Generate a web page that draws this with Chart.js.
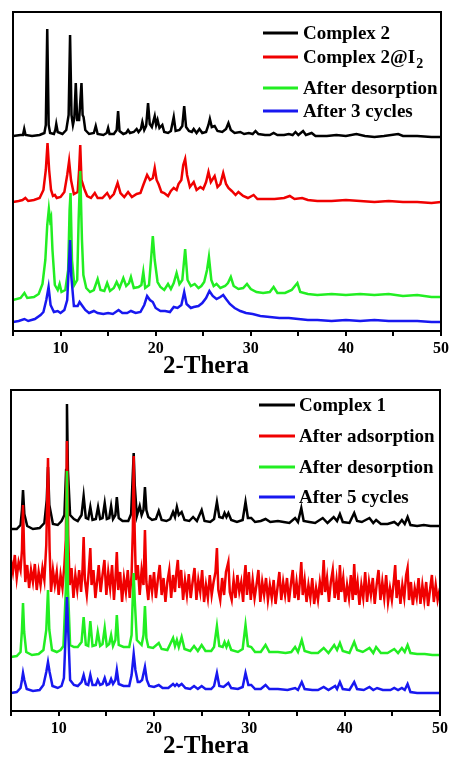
<!DOCTYPE html>
<html>
<head>
<meta charset="utf-8">
<script src="https://cdn.jsdelivr.net/npm/chart.js@4.4.0/dist/chart.umd.min.js"></script>
<style>
  body { margin: 0; background: #fff; }
  canvas { display: block; }
</style>
</head>
<body>
<canvas id="top" width="452" height="380"></canvas>
<canvas id="bottom" width="452" height="380"></canvas>
<script>
// [2-theta, intensity a.u.] - traces are already stacked with an offset

// ---- upper panel ----
const complex2 = [[5,194],[5.8,195],[6.05,195],[6.18,201],[6.32,195],[7,194],[7.8,195],[8.3,197],[8.45,205],[8.6,301],[8.75,205],[8.9,197],[9.3,196],[9.45,200],[9.55,206],[9.7,198],[10.2,196],[10.6,200],[10.85,215],[11.0,295],[11.15,215],[11.3,205],[11.45,212],[11.6,247],[11.75,210],[11.95,210],[12.2,247],[12.32,215],[12.42,213],[12.6,200],[13.0,196],[13.5,197],[13.7,204],[13.9,196],[14.5,195],[14.85,197],[15.0,202],[15.15,196],[15.6,196],[15.9,200],[16.05,219],[16.2,199],[16.6,196],[16.9,197],[17.1,200],[17.3,197],[17.7,198],[18.0,201],[18.2,198],[18.45,201],[18.6,208],[18.8,200],[19.0,204],[19.2,227],[19.38,206],[19.6,203],[19.9,214],[20.05,205],[20.2,210],[20.4,202],[20.7,205],[20.9,198],[21.3,197],[21.6,199],[21.9,213],[22.1,199],[22.5,200],[22.8,204],[23.0,224],[23.2,203],[23.5,199],[23.8,198],[24.0,201],[24.3,197],[24.6,201],[24.9,197],[25.3,198],[25.55,205],[25.7,211],[25.9,203],[26.2,204],[26.5,199],[27.0,198],[27.4,201],[27.65,207],[27.9,200],[28.3,197],[28.9,198],[29.3,196],[29.8,197],[30.2,196],[30.5,199],[30.8,196],[31.5,195],[32.0,195],[32.4,197],[32.8,195],[33.5,195],[34.0,196],[34.4,195],[34.7,198],[35.0,195],[35.5,199],[35.8,195],[36.4,197],[36.8,194],[38,194],[39,195],[40,194],[41.1,196],[42,194],[43,193],[44,194],[45.5,196],[46,194],[47.5,194],[49,193],[50,193]];

const complex2I2 = [[5,128],[5.6,129],[6.0,130],[6.3,132],[6.6,129],[7.2,130],[7.8,132],[8.2,140],[8.45,160],[8.63,187],[8.8,160],[9.0,140],[9.2,134],[9.4,135],[9.6,132],[10.0,133],[10.4,138],[10.7,155],[10.9,169],[11.1,150],[11.4,136],[11.8,138],[11.95,160],[12.07,185],[12.2,150],[12.5,141],[12.8,134],[13.2,132],[13.6,137],[13.9,132],[14.4,132],[14.9,137],[15.2,132],[15.6,136],[16.0,147],[16.3,137],[16.7,133],[17.1,138],[17.5,133],[18.0,136],[18.4,137],[18.7,145],[19.1,155],[19.4,150],[19.7,152],[19.9,162],[20.1,150],[20.3,146],[20.6,138],[20.9,137],[21.3,134],[21.6,139],[21.9,142],[22.2,140],[22.4,146],[22.7,150],[22.9,165],[23.1,171],[23.3,155],[23.6,143],[24.0,148],[24.3,140],[24.7,143],[25.0,141],[25.3,148],[25.55,158],[25.8,148],[26.2,154],[26.5,143],[26.8,146],[27.1,157],[27.4,146],[27.65,142],[28.0,139],[28.4,135],[28.7,138],[29.2,134],[29.7,132],[30.3,135],[30.7,131],[31.5,131],[32.5,131],[33.5,132],[34.1,134],[34.6,131],[35.4,132],[36.0,130],[37,129],[38.5,129],[40,130],[41.5,129],[43,128],[44.5,129],[46,128],[47.5,128],[49,127],[50,128]];

const desorb2 = [[5,30],[5.8,32],[6.2,37],[6.5,32],[7.2,33],[7.7,36],[8.1,46],[8.4,70],[8.6,105],[8.77,121],[8.9,110],[9.0,113],[9.15,80],[9.4,45],[9.7,40],[9.9,46],[10.1,38],[10.5,40],[10.8,60],[10.95,120],[11.05,137],[11.2,70],[11.45,45],[11.75,50],[11.9,110],[12.07,159],[12.25,90],[12.4,55],[12.7,42],[13.1,38],[13.5,40],[13.9,51],[14.2,40],[14.6,39],[14.9,47],[15.2,39],[15.6,42],[15.9,48],[16.2,42],[16.6,52],[16.9,44],[17.2,47],[17.4,53],[17.7,42],[18.2,43],[18.5,45],[18.7,58],[18.9,42],[19.3,45],[19.55,75],[19.7,94],[19.9,70],[20.2,48],[20.5,43],[20.9,40],[21.3,46],[21.6,41],[21.9,47],[22.2,57],[22.5,46],[22.8,50],[23.1,81],[23.35,50],[23.7,44],[24.1,46],[24.5,42],[24.8,44],[25.1,48],[25.4,60],[25.6,73],[25.85,50],[26.1,44],[26.4,46],[26.8,42],[27.3,44],[27.6,47],[27.9,53],[28.2,44],[28.7,41],[29.2,42],[29.6,46],[30.0,41],[30.6,38],[31.3,37],[32.0,38],[32.4,43],[32.8,37],[33.6,37],[34.3,40],[34.9,47],[35.2,38],[36,36],[37,35],[38.5,36],[40,35],[41.5,36],[43,35],[44.5,36],[46,34],[47.5,35],[49,33],[50,33]];

const cycles3 = [[5,8],[5.6,9],[6.2,11],[6.6,9],[7.3,11],[7.9,15],[8.2,18],[8.5,30],[8.74,43],[8.95,25],[9.3,18],[9.7,19],[10.0,17],[10.4,20],[10.7,30],[10.9,70],[11.0,90],[11.12,55],[11.4,24],[11.8,24],[12.0,28],[12.3,24],[12.6,20],[13.0,17],[13.5,19],[13.9,17],[14.5,16],[15.0,17],[15.5,16],[16.1,20],[16.5,17],[17.0,17],[17.4,19],[17.9,17],[18.4,18],[18.8,25],[19.1,34],[19.4,30],[19.7,28],[20.0,22],[20.5,19],[21.0,19],[21.5,18],[21.9,23],[22.3,22],[22.7,25],[23.0,38],[23.25,26],[23.7,22],[24.0,23],[24.5,24],[24.9,27],[25.3,32],[25.65,39],[26.0,34],[26.4,31],[26.8,33],[27.1,35],[27.4,31],[27.8,26],[28.3,22],[28.9,19],[29.5,17],[30.2,16],[31.0,14],[32,13],[33,12],[34,12],[35,11],[36,10],[37,10],[38.5,9],[40,10],[41.5,9],[43,10],[44.5,9],[46,9],[47.5,9],[49,8],[50,8]];

// ---- lower panel ----
const complex1 = [[5,181],[5.6,181],[6.0,185],[6.15,200],[6.26,220],[6.4,196],[6.7,184],[7.3,181],[8.0,182],[8.5,187],[8.75,210],[8.88,243],[9.02,205],[9.4,186],[9.9,185],[10.3,189],[10.6,195],[10.78,240],[10.87,306],[10.97,240],[11.2,195],[11.6,191],[12.0,189],[12.4,195],[12.62,214],[12.85,192],[13.1,191],[13.32,203],[13.55,190],[13.9,191],[14.13,203],[14.35,191],[14.6,192],[14.83,207],[15.05,191],[15.3,192],[15.5,204],[15.7,191],[15.95,195],[16.1,213],[16.3,192],[16.7,189],[17.3,189],[17.6,196],[17.75,230],[17.87,257],[17.98,225],[18.2,194],[18.5,204],[18.7,195],[18.9,200],[19.05,223],[19.2,200],[19.4,193],[19.8,190],[20.2,191],[20.5,199],[20.8,190],[21.3,189],[21.7,191],[22.0,198],[22.2,193],[22.4,203],[22.6,195],[22.9,198],[23.2,190],[23.7,189],[24.1,193],[24.5,189],[25.0,200],[25.3,189],[25.9,188],[26.3,191],[26.6,208],[26.85,193],[27.2,192],[27.4,197],[27.6,193],[27.8,197],[28.1,190],[28.7,188],[29.3,190],[29.6,208],[29.85,192],[30.2,192],[30.6,188],[31.2,189],[31.7,191],[32.2,188],[33.0,189],[33.6,188],[34.2,187],[34.8,192],[35.1,188],[35.45,202],[35.7,189],[36.3,188],[36.9,187],[37.7,192],[38.2,187],[38.85,193],[39.2,189],[39.5,196],[39.8,188],[40.5,187],[41.0,197],[41.3,189],[41.8,188],[42.6,192],[43.0,187],[43.3,190],[43.8,186],[44.5,186],[45.2,188],[45.6,185],[46.0,190],[46.3,186],[46.6,193],[46.9,185],[47.6,184],[48.3,185],[49,184],[50,184]];

const adsorb1 = [[5.0,150],[5.2,138],[5.4,155],[5.6,132],[5.8,148],[6.0,140],[6.15,160],[6.26,205],[6.38,158],[6.5,128],[6.7,145],[6.9,122],[7.1,140],[7.3,128],[7.5,146],[7.7,120],[7.9,138],[8.1,125],[8.3,142],[8.5,130],[8.7,165],[8.88,252],[9.05,160],[9.2,118],[9.4,140],[9.6,125],[9.8,138],[10.0,115],[10.2,135],[10.4,122],[10.6,145],[10.75,170],[10.87,269],[11.0,175],[11.15,125],[11.35,142],[11.55,112],[11.75,135],[11.95,120],[12.15,140],[12.35,118],[12.5,140],[12.62,173],[12.75,130],[12.95,115],[13.15,138],[13.32,162],[13.45,125],[13.65,140],[13.85,112],[14.05,130],[14.2,145],[14.4,118],[14.6,135],[14.8,150],[15.0,115],[15.2,138],[15.4,122],[15.6,145],[15.8,110],[15.95,130],[16.1,158],[16.25,120],[16.45,138],[16.65,108],[16.85,132],[17.05,118],[17.25,140],[17.45,112],[17.65,135],[17.78,180],[17.87,254],[17.97,180],[18.1,130],[18.3,145],[18.5,115],[18.7,140],[18.9,125],[19.05,180],[19.2,128],[19.4,110],[19.6,135],[19.8,118],[20.0,138],[20.2,112],[20.4,130],[20.6,145],[20.8,115],[21.0,132],[21.2,108],[21.4,128],[21.6,140],[21.8,112],[22.0,135],[22.2,118],[22.35,138],[22.5,150],[22.65,122],[22.85,140],[23.05,110],[23.25,130],[23.45,115],[23.65,136],[23.85,112],[24.05,128],[24.25,142],[24.45,110],[24.65,130],[24.85,118],[25.05,140],[25.25,108],[25.45,125],[25.65,112],[25.85,135],[26.05,115],[26.25,128],[26.45,138],[26.6,162],[26.75,120],[26.95,110],[27.15,132],[27.35,115],[27.55,138],[27.8,148],[27.95,118],[28.15,110],[28.35,130],[28.55,112],[28.75,135],[28.95,118],[29.15,128],[29.35,108],[29.5,135],[29.6,145],[29.75,115],[29.95,138],[30.15,110],[30.35,130],[30.55,112],[30.75,125],[30.95,140],[31.15,108],[31.35,128],[31.55,115],[31.75,132],[31.95,110],[32.15,125],[32.35,112],[32.55,130],[32.75,106],[32.95,122],[33.15,138],[33.35,110],[33.55,128],[33.75,115],[33.95,132],[34.15,108],[34.35,125],[34.55,140],[34.75,112],[34.95,128],[35.15,110],[35.35,135],[35.45,148],[35.6,115],[35.8,130],[36.0,108],[36.2,125],[36.4,112],[36.6,132],[36.8,106],[37.0,122],[37.2,110],[37.4,128],[37.6,115],[37.8,150],[37.95,118],[38.15,132],[38.35,108],[38.55,128],[38.75,140],[38.95,112],[39.15,130],[39.35,110],[39.5,145],[39.65,118],[39.85,132],[40.05,108],[40.25,125],[40.45,112],[40.65,135],[40.85,110],[41.0,146],[41.15,115],[41.35,128],[41.55,105],[41.75,125],[41.95,112],[42.15,138],[42.35,108],[42.55,128],[42.75,115],[42.95,132],[43.15,106],[43.35,125],[43.55,140],[43.75,110],[43.95,128],[44.15,112],[44.35,135],[44.55,108],[44.75,122],[44.95,110],[45.15,128],[45.3,145],[45.45,112],[45.65,130],[45.85,106],[46.05,125],[46.25,112],[46.45,135],[46.6,142],[46.75,110],[46.95,128],[47.15,105],[47.35,122],[47.55,112],[47.75,132],[47.95,106],[48.15,125],[48.35,110],[48.55,128],[48.75,104],[48.95,120],[49.15,135],[49.35,108],[49.55,125],[49.75,110],[50.0,122]];

const desorb1 = [[5,53],[5.6,54],[6.0,58],[6.15,80],[6.26,107],[6.38,78],[6.6,58],[7.2,55],[7.9,56],[8.4,60],[8.7,80],[8.88,120],[9.02,80],[9.3,60],[9.8,58],[10.2,60],[10.5,64],[10.75,120],[10.87,239],[10.98,120],[11.2,65],[11.6,63],[12.0,63],[12.4,68],[12.62,93],[12.85,65],[13.1,64],[13.32,89],[13.55,64],[13.9,65],[14.1,78],[14.35,64],[14.6,66],[14.83,82],[15.05,64],[15.3,66],[15.5,75],[15.7,64],[15.95,70],[16.1,95],[16.3,65],[16.8,63],[17.4,63],[17.65,75],[17.78,115],[17.87,137],[17.98,110],[18.2,70],[18.5,67],[18.7,65],[18.9,75],[19.05,104],[19.2,72],[19.4,63],[19.9,62],[20.5,67],[20.8,61],[21.4,60],[22.0,72],[22.2,64],[22.4,70],[22.6,63],[22.9,73],[23.2,61],[23.8,59],[24.2,64],[24.6,59],[25.0,65],[25.4,59],[26.0,59],[26.3,63],[26.6,84],[26.85,64],[27.2,63],[27.4,68],[27.6,63],[27.8,68],[28.1,60],[28.8,58],[29.3,61],[29.6,85],[29.85,64],[30.2,63],[30.6,58],[31.2,58],[31.7,65],[32.1,58],[33.0,58],[33.8,57],[34.4,58],[34.8,63],[35.1,58],[35.5,70],[35.8,59],[36.5,57],[37.2,57],[37.8,62],[38.3,57],[38.9,65],[39.2,60],[39.5,67],[39.8,59],[40.5,57],[41.0,68],[41.3,60],[41.9,58],[42.6,62],[43.0,57],[43.3,63],[43.8,57],[44.5,57],[45.2,61],[45.6,57],[46.0,62],[46.3,58],[46.6,65],[46.9,57],[47.6,56],[48.4,56],[49.2,55],[50,55]];

const cycles5 = [[5,17],[5.6,18],[6.0,22],[6.15,30],[6.26,37],[6.4,30],[6.65,21],[7.3,19],[8.0,20],[8.4,25],[8.7,38],[8.88,48],[9.05,38],[9.35,24],[9.9,22],[10.3,24],[10.55,32],[10.75,80],[10.87,113],[11.0,80],[11.2,30],[11.6,25],[12.0,24],[12.4,28],[12.62,35],[12.85,26],[13.1,25],[13.32,35],[13.55,25],[13.9,25],[14.1,30],[14.35,25],[14.6,26],[14.83,32],[15.05,25],[15.3,26],[15.5,31],[15.7,26],[15.95,30],[16.1,40],[16.3,26],[16.8,24],[17.4,24],[17.65,35],[17.87,56],[18.05,40],[18.3,28],[18.5,28],[18.75,30],[19.05,43],[19.25,30],[19.5,24],[20.0,23],[20.5,25],[20.9,22],[21.5,22],[22.0,26],[22.2,24],[22.4,26],[22.6,24],[22.9,26],[23.3,22],[23.8,21],[24.2,24],[24.6,21],[25.0,24],[25.4,21],[26.0,21],[26.3,24],[26.6,37],[26.85,24],[27.3,23],[27.8,27],[28.1,22],[28.8,21],[29.3,23],[29.6,37],[29.9,25],[30.2,25],[30.6,21],[31.2,21],[31.7,25],[32.1,21],[33.0,21],[34.0,20],[34.8,22],[35.1,20],[35.5,28],[35.8,21],[36.6,20],[37.2,20],[37.8,23],[38.3,20],[39.0,24],[39.2,21],[39.5,28],[39.8,21],[40.5,20],[41.0,28],[41.3,21],[42.0,20],[42.6,23],[43.0,20],[43.4,22],[44.0,20],[44.8,20],[45.2,22],[45.6,20],[46.0,22],[46.3,20],[46.6,26],[46.9,18],[47.6,17],[48.5,17],[49.3,17],[50,17]];

const topNames = ['Complex 2', 'Complex 2@I_2', 'After desorption', 'After 3 cycles'];
const bottomNames = ['Complex 1', 'After adsorption', 'After desorption', 'After 5 cycles'];
const xTitle = '2-Thera';
const xMin = 5, xMax = 50;
const labelledTicks = [10, 20, 30, 40, 50];

const colors = ['#000000', '#f00000', '#22ee22', '#1818f0'];
const serif = '"Liberation Serif", "Times New Roman", serif';

// box around the plot + axis title (sits left of centre in the original)
const frame = {
  id: 'frame',
  afterDraw(chart) {
    const a = chart.chartArea, ctx = chart.ctx;
    ctx.save();
    ctx.strokeStyle = '#000';
    ctx.lineWidth = 2;
    ctx.strokeRect(a.left, a.top, a.right - a.left, a.bottom - a.top);
    ctx.fillStyle = '#000';
    ctx.font = 'bold 25px ' + serif;
    ctx.textAlign = 'center';
    ctx.textBaseline = 'middle';
    ctx.fillText(xTitle, 206, 367);
    ctx.restore();
  }
};

// legend drawn inside the frame, "_" marks a subscript
const legendBox = {
  id: 'legendBox',
  afterDraw(chart, args, opts) {
    const ctx = chart.ctx;
    ctx.save();
    chart.data.datasets.forEach((ds, i) => {
      const y = opts.rows[i];
      ctx.strokeStyle = ds.borderColor;
      ctx.lineWidth = 3;
      ctx.beginPath();
      ctx.moveTo(opts.x0, y);
      ctx.lineTo(opts.x1, y);
      ctx.stroke();
      const parts = ds.label.split('_');
      ctx.fillStyle = '#000';
      ctx.textBaseline = 'middle';
      ctx.font = 'bold 19px ' + serif;
      ctx.fillText(parts[0], opts.tx, y + 1);
      if (parts[1]) {
        const w = ctx.measureText(parts[0]).width;
        ctx.font = 'bold 14px ' + serif;
        ctx.fillText(parts[1], opts.tx + w + 1, y + 7);
      }
    });
    ctx.restore();
  }
};

function makeChart(id, series, names, yMax, pad, legend) {
  return new Chart(document.getElementById(id), {
    type: 'line',
    data: {
      datasets: series.map((s, i) => ({
        label: names[i],
        data: s.map(p => ({ x: p[0], y: p[1] })),
        borderColor: colors[i],
        borderWidth: 2.5,
        pointRadius: 0,
        tension: 0,
        fill: false,
        order: series.length - 1 - i
      }))
    },
    options: {
      responsive: false,
      animation: false,
      layout: { padding: pad },
      plugins: {
        legend: { display: false },
        tooltip: { enabled: false },
        legendBox: legend
      },
      scales: {
        x: {
          type: 'linear',
          min: xMin,
          max: xMax,
          afterFit: (scale) => { scale.height = 49; },
          afterBuildTicks: (scale) => {
            const t = [];
            for (let v = xMin; v <= xMax; v += 5) t.push({ value: v });
            scale.ticks = t;
          },
          ticks: {
            autoSkip: false,
            maxRotation: 0,
            padding: 3,
            color: '#000',
            font: { family: serif, size: 16, weight: 'bold' },
            callback: (v) => labelledTicks.includes(v) ? String(v) : ''
          },
          grid: {
            drawOnChartArea: false,
            drawTicks: true,
            tickLength: 5,
            color: '#000',
            lineWidth: 2
          },
          border: { display: false },
          title: { display: false }
        },
        y: { display: false, min: -1, max: yMax }
      }
    },
    plugins: [frame, legendBox]
  });
}

makeChart('top', [complex2, complex2I2, desorb2, cycles3], topNames, 318,
  { left: 13, right: 11, top: 12, bottom: 0 },
  { x0: 263, x1: 298, tx: 303, rows: [33, 57, 88, 111] });

makeChart('bottom', [complex1, adsorb1, desorb1, cycles5], bottomNames, 320,
  { left: 11, right: 12, top: 10, bottom: 0 },
  { x0: 259, x1: 295, tx: 299, rows: [25, 56, 87, 117] });
</script>
</body>
</html>
